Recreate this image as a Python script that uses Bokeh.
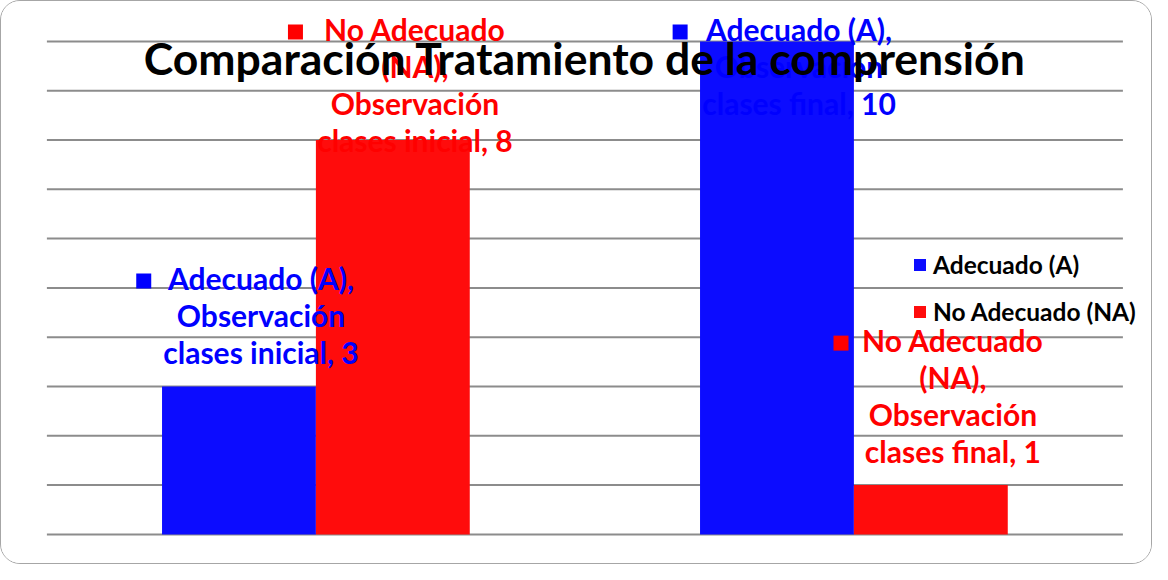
from bokeh.plotting import figure
from bokeh.models import Range1d, ColumnDataSource, Legend, LegendItem, Label
from bokeh.core.properties import value
from bokeh.embed import file_html
from bokeh.resources import INLINE

# ---- data ----
categories = ["Observación clases inicial", "Observación clases final"]
series = ["Adecuado (A)", "No Adecuado (NA)"]
adecuado = [3, 10]
no_adecuado = [8, 1]
title_text = "Comparación Tratamiento de la comprensión"
y_ticks = list(range(0, 11))

bar_colors = ["#0c0cff", "#ff0c0c"]
text_colors = ["#0000ff", "#ff0000"]

# label placement (data units): first-line baseline, marker offset from bar centre
label_baseline = [4.95, 10.0, 10.0, 3.69]   # order: A-inicial, NA-inicial, A-final, NA-final
marker_dx = [-0.177, -0.181, -0.180, -0.167]
text_dx = 0.041
line_step_px = 36.7
text_shift_px = -12

W, H = 1152, 564
# plot area (0..2 x 0..10) occupies px x 45.4..1121.4, y 39.9..532.9 of the canvas;
# the frame is the whole canvas so that labels above the plot area are not clipped
x_lo, x_hi = 45.4, 1121.4
y_top, y_bot = 39.9, 532.9
xu = (x_hi - x_lo) / 2.0
yu = (y_bot - y_top) / 10.0
x_range = Range1d(-x_lo / xu, 2 + (W - x_hi) / xu)
y_range = Range1d(-(H - y_bot) / yu, 10 + y_top / yu)

p = figure(width=W, height=H, output_backend="svg", toolbar_location=None,
           x_range=x_range, y_range=y_range,
           min_border_left=0, min_border_right=0, min_border_top=0, min_border_bottom=0)
p.xaxis.visible = False
p.yaxis.visible = False
p.xgrid.visible = False
p.ygrid.visible = False
p.outline_line_color = None
p.background_fill_color = "white"
p.border_fill_color = "white"
p.styles = {"border": "1.5px solid #a6a6a6", "border-radius": "20px", "overflow": "hidden"}

# horizontal gridlines across the plot area
p.segment(x0=[0] * len(y_ticks), x1=[2] * len(y_ticks), y0=y_ticks, y1=y_ticks,
          line_color="#8c8c8c", line_width=2)

bw = 0.286
values = [adecuado, no_adecuado]
offsets = [-bw / 2, bw / 2]
renderers = []
for s in range(2):
    xs = [i + 0.5 + offsets[s] for i in range(len(categories))]
    src = ColumnDataSource(dict(x=xs, top=values[s]))
    r = p.vbar(x="x", top="top", width=bw, bottom=0, source=src,
               fill_color=bar_colors[s], line_color=None)
    renderers.append(r)

# ---- data labels ----
def series_lines(name):
    if name == "No Adecuado (NA)":
        return ["No Adecuado", "(NA),"]
    return [name + ","]

k = 0
for i, cat in enumerate(categories):
    for s in range(2):
        v = values[s][i]
        first, rest = cat.split(" ", 1)
        lines = series_lines(series[s]) + [first, f"{rest}, {v}"]
        bx = i + 0.5 + offsets[s]
        tx = bx + text_dx
        n = len(lines)
        src = ColumnDataSource(dict(x=[tx] * n, y=[label_baseline[k]] * n, t=lines,
                                    yo=[j * line_step_px + text_shift_px for j in range(n)]))
        p.text(x="x", y="y", text="t", y_offset="yo", source=src,
               text_align="center", text_baseline="alphabetic",
               text_font=value("Lato"), text_font_style="bold",
               text_font_size="30px", text_color=text_colors[s])
        p.scatter(x=[bx + marker_dx[k]], y=[label_baseline[k] + 0.19], marker="square",
                  size=15, fill_color=text_colors[s], line_color=None)
        k += 1

# ---- title ----
p.add_layout(Label(x=1.0, y=9.37, y_offset=15, text=title_text, text_align="center",
                   text_baseline="alphabetic", text_font="Lato", text_font_style="bold",
                   text_font_size="44.5px", text_color="black"))

# ---- legend ----
legend = Legend(items=[LegendItem(label=series[s], renderers=[renderers[s]]) for s in range(2)],
                location=(911, 238), orientation="vertical",
                glyph_width=15, glyph_height=15, label_standoff=6,
                label_height=32, spacing=15, padding=0, margin=0,
                border_line_color=None, background_fill_alpha=0,
                label_text_font="Lato", label_text_font_style="bold",
                label_text_font_size="24.5px", label_text_color="black")
p.add_layout(legend)

open("out.html", "w").write(file_html(p, INLINE))
